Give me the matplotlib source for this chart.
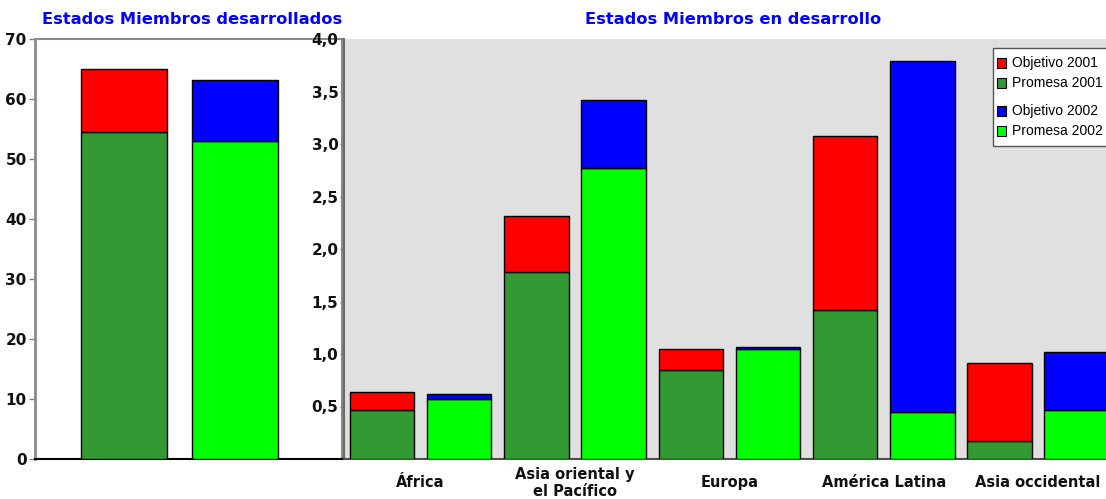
import matplotlib
matplotlib.use("Agg")
import matplotlib.pyplot as plt
from matplotlib.patches import Rectangle
from matplotlib.ticker import FuncFormatter, FixedLocator
import matplotlib.transforms as mtransforms

# --- data -------------------------------------------------------------
developed_objetivo = [65.0, 63.2]      # 2001, 2002
developed_promesa = [54.5, 53.0]

regions = ["África", "Asia oriental y\nel Pacífico", "Europa",
           "América Latina", "Asia occidental"]
objetivo_2001 = [0.635, 2.31, 1.05, 3.075, 0.917]
promesa_2001 = [0.467, 1.785, 0.845, 1.422, 0.168]
objetivo_2002 = [0.619, 3.42, 1.07, 3.787, 1.02]
promesa_2002 = [0.568, 2.775, 1.05, 0.448, 0.464]

left_ticks = [0, 10, 20, 30, 40, 50, 60, 70]
right_ticks = [0.5, 1.0, 1.5, 2.0, 2.5, 3.0, 3.5, 4.0]

legend_labels = ["Objetivo 2001", "Promesa 2001", "Objetivo 2002", "Promesa 2002"]

RED = "#FF0000"
DKGREEN = "#339933"
BLUE = "#0000FF"
LIME = "#00FF00"
GREY_BG = "#E0E0E0"

W, H = 1106, 499
fig = plt.figure(figsize=(W / 100, H / 100), dpi=100)


def px_box(x0, y0, x1, y1):
    """Axes rectangle from pixel edges (origin top-left)."""
    return [x0 / W, 1 - y1 / H, (x1 - x0) / W, (y1 - y0) / H]


def px(x, y):
    return x / W, 1 - y / H


tick_font = dict(fontsize=11, fontweight="bold", color="#111111")

# --- left panel: developed states ---------------------------------------
axL = fig.add_axes(px_box(35, 39, 342, 459))
xs = [0, 1]
wL = 0.775
axL.bar(xs[0], developed_promesa[0], width=wL, color=DKGREEN, edgecolor="black", linewidth=1, zorder=3)
axL.bar(xs[0], developed_objetivo[0] - developed_promesa[0], bottom=developed_promesa[0],
        width=wL, color=RED, edgecolor="black", linewidth=1, zorder=3)
axL.bar(xs[1], developed_promesa[1], width=wL, color=LIME, edgecolor="black", linewidth=1, zorder=3)
axL.bar(xs[1], developed_objetivo[1] - developed_promesa[1], bottom=developed_promesa[1],
        width=wL, color=BLUE, edgecolor="black", linewidth=1, zorder=3)
axL.set_xlim(-0.806, 1.96)
axL.set_ylim(0, 70)
axL.set_yticks(left_ticks)
axL.set_yticklabels([str(t) for t in left_ticks], **tick_font)
axL.set_xticks([])
axL.tick_params(axis="y", length=4, width=1, color="#808080", pad=2)
for side in ("left", "top", "right"):
    axL.spines[side].set_color("#8a8a8a")
axL.spines["left"].set_linewidth(2)
axL.spines["top"].set_linewidth(1.5)
axL.spines["right"].set_linewidth(1.5)
axL.spines["bottom"].set_color("black")
axL.spines["bottom"].set_linewidth(1.5)

# --- right panel: developing states -------------------------------------
axR = fig.add_axes(px_box(344, 39, 1106, 459))
axR.set_facecolor(GREY_BG)
wR = 0.835
for i in range(len(regions)):
    x1 = 2 * i
    x2 = 2 * i + 1
    axR.bar(x1, promesa_2001[i], width=wR, color=DKGREEN, edgecolor="black", linewidth=1, zorder=3)
    axR.bar(x1, objetivo_2001[i] - promesa_2001[i], bottom=promesa_2001[i], width=wR,
            color=RED, edgecolor="black", linewidth=1, zorder=3)
    axR.bar(x2, promesa_2002[i], width=wR, color=LIME, edgecolor="black", linewidth=1, zorder=3)
    axR.bar(x2, objetivo_2002[i] - promesa_2002[i], bottom=promesa_2002[i], width=wR,
            color=BLUE, edgecolor="black", linewidth=1, zorder=3)
axR.set_xlim(-0.492, 9.38)
axR.set_ylim(0, 4.0)
axR.yaxis.set_major_locator(FixedLocator(right_ticks))
axR.yaxis.set_major_formatter(FuncFormatter(lambda v, p: f"{v:.1f}".replace(".", ",")))
for lab in axR.get_yticklabels():
    lab.set_fontsize(11)
    lab.set_fontweight("bold")
    lab.set_color("#111111")
axR.tick_params(axis="y", length=3, width=1, color="#808080", pad=1)
axR.set_xticks([])
for side in ("top", "right"):
    axR.spines[side].set_visible(False)
axR.spines["left"].set_color("#6a6a6a")
axR.spines["left"].set_linewidth(1.5)
axR.spines["bottom"].set_color("#505050")
axR.spines["bottom"].set_linewidth(1.5)

trans = mtransforms.blended_transform_factory(axR.transData, axR.transAxes)
for i, name in enumerate(regions):
    axR.text(2 * i + 0.5, -0.057, name, transform=trans, ha="center", va="center",
             fontsize=10.5, fontweight="bold", color="#111111", linespacing=1.1,
             clip_on=False)

# --- titles ---------------------------------------------------------------
fig.text(*px(192, 20), "Estados Miembros desarrollados", ha="center", va="center",
         fontsize=11.7, fontweight="bold", color=BLUE)
fig.text(*px(733, 19), "Estados Miembros en desarrollo", ha="center", va="center",
         fontsize=11.7, fontweight="bold", color=BLUE)

# --- legend ----------------------------------------------------------------
bx0, by0, bx1, by1 = 993, 48, 1112, 146
lx, ly = px(bx0, by1)
fig.add_artist(Rectangle((lx, ly), (bx1 - bx0) / W, (by1 - by0) / H,
                         transform=fig.transFigure, facecolor="white",
                         edgecolor="#555555", linewidth=1, zorder=5))
entry_colors = [RED, DKGREEN, BLUE, LIME]
entry_y = [63, 83, 111, 131]
for lab, col, yy in zip(legend_labels, entry_colors, entry_y):
    sx, sy = px(997, yy + 4.5)
    fig.add_artist(Rectangle((sx, sy), 9 / W, 9 / H, transform=fig.transFigure,
                             facecolor=col, edgecolor="black", linewidth=0.8, zorder=6))
    fig.text(*px(1012, yy), lab, ha="left", va="center", fontsize=10,
             family="Liberation Sans", color="black", zorder=6)

fig.savefig("out.png", dpi=100)
